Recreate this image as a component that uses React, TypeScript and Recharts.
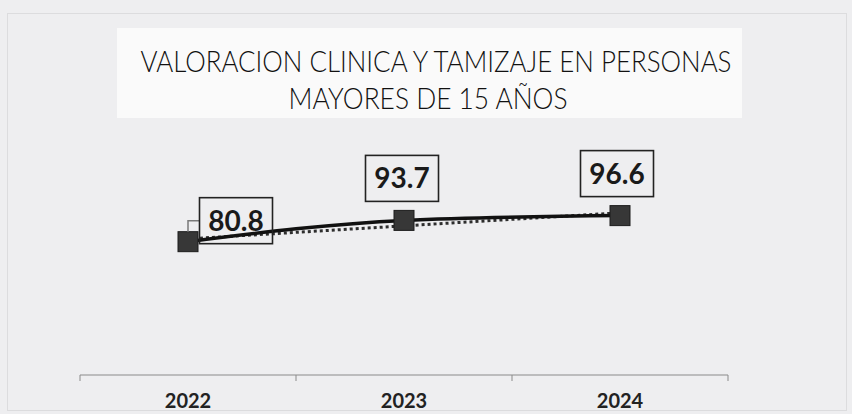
import { LineChart, Line, XAxis, YAxis, LabelList } from 'recharts'

// valores
const years = ['2022', '2023', '2024']
const valores = [80.8, 93.7, 96.6]
// línea de tendencia punteada
const tendencia = [82.5, 90.4, 98.3]
const titulo = ['VALORACION CLINICA Y TAMIZAJE EN PERSONAS', 'MAYORES DE 15 AÑOS']

const data = years.map((year, i) => ({ year, valor: valores[i], tendencia: tendencia[i] }))

const W = 852
const H = 414
const margin = { top: 177, right: 124, bottom: 0, left: 80 }
const axisHeight = 39
const halfBand = (W - margin.left - margin.right) / years.length / 2

// desplazamiento de cada etiqueta respecto a su punto
const labelShift = [
  { dx: 48, dy: -21, leader: true },
  { dx: -2, dy: -42, leader: false },
  { dx: -3, dy: -42, leader: false },
]

function SquareDot(props: any) {
  const { cx, cy } = props
  if (cx == null || cy == null) return null
  return <rect x={cx - 10} y={cy - 10} width={20} height={20} fill="#373737" stroke="#1c1c1c" strokeWidth={1} />
}

function ValueBox(props: any) {
  const { x, y, value, index } = props
  const s = labelShift[index] || { dx: 0, dy: -42, leader: false }
  const cx = x + s.dx
  const cy = y + s.dy
  const w = 73
  const h = 46
  return (
    <g>
      {s.leader && (
        <polyline
          points={`${x},${y - 10} ${x},${cy} ${cx - w / 2},${cy}`}
          fill="none"
          stroke="#7a7a7a"
          strokeWidth={1.5}
        />
      )}
      <rect x={cx - w / 2} y={cy - h / 2} width={w} height={h} fill="none" stroke="#222" strokeWidth={1.6} />
      <text x={cx} y={cy + 10} textAnchor="middle" fontFamily="Lato" fontWeight={700} fontSize={28} fill="#1a1a1a">
        {value}
      </text>
    </g>
  )
}

// etiqueta del año + marcas de separación entre categorías
function YearTick(props: any) {
  const { x, payload, index, visibleTicksCount } = props
  const axisY = H - margin.bottom - axisHeight
  const last = index === visibleTicksCount - 1
  return (
    <g>
      <line x1={x - halfBand} x2={x - halfBand} y1={axisY} y2={axisY + 6} stroke="#8a8a8a" />
      {last && <line x1={x + halfBand} x2={x + halfBand} y1={axisY} y2={axisY + 6} stroke="#8a8a8a" />}
      <text x={x} y={axisY + 33} textAnchor="middle" fontFamily="Lato" fontWeight={700} fontSize={20} fill="#222">
        {payload.value}
      </text>
    </g>
  )
}

export default function App() {
  return (
    <div style={{ position: 'absolute', left: 0, top: 0, width: W, height: H, background: '#eeeef0', overflow: 'hidden' }}>
      <div
        style={{
          position: 'absolute',
          left: 7,
          top: 13,
          width: 838,
          height: 396,
          border: '1px solid #dcdcde',
        }}
      />
      <svg style={{ position: 'absolute', left: 0, top: 0 }} width={W} height={H}>
        <rect x={117} y={28} width={625} height={90} fill="#fafafa" />
        <text x={436} y={72} textAnchor="middle" fontFamily="Lato" fontWeight={300} fontSize={30} fill="#111" textLength={591} lengthAdjust="spacingAndGlyphs">
          {titulo[0]}
        </text>
        <text x={428} y={109} textAnchor="middle" fontFamily="Lato" fontWeight={300} fontSize={30} fill="#111" textLength={279} lengthAdjust="spacingAndGlyphs">
          {titulo[1]}
        </text>
      </svg>
      <div style={{ position: 'absolute', left: 0, top: 0 }}>
        <LineChart width={W} height={H} data={data} margin={margin}>
          <XAxis
            dataKey="year"
            padding={{ left: halfBand, right: halfBand }}
            axisLine={{ stroke: '#8a8a8a' }}
            tickLine={false}
            height={axisHeight}
            interval={0}
            tick={<YearTick />}
          />
          <YAxis hide domain={[0, 120]} />
          <Line
            dataKey="tendencia"
            type="linear"
            stroke="#2e2e2e"
            strokeWidth={3}
            strokeDasharray="3 3"
            dot={false}
            isAnimationActive={false}
          />
          <Line
            dataKey="valor"
            type="monotone"
            stroke="#111"
            strokeWidth={3.5}
            dot={<SquareDot />}
            isAnimationActive={false}
          >
            <LabelList dataKey="valor" content={<ValueBox />} />
          </Line>
        </LineChart>
      </div>
    </div>
  )
}
